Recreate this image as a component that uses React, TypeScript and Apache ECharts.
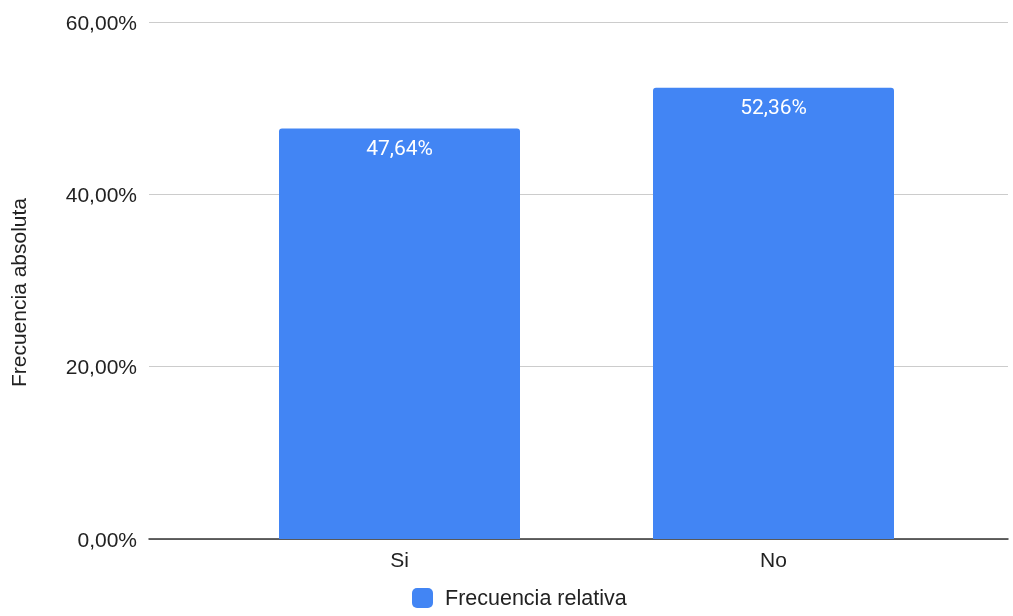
import React, { useEffect, useRef } from "react";
import * as echarts from "echarts";

const categories = ["Si", "No"];
const values = [47.64, 52.36];
const seriesName = "Frecuencia relativa";
const yAxisTitle = "Frecuencia absoluta";
const yMin = 0;
const yMax = 60;
const yInterval = 20;

const fmt = (v: number) => v.toFixed(2).replace(".", ",") + "%";
const FONT = "Liberation Sans, Arial, sans-serif";

export default function App() {
  const ref = useRef<HTMLDivElement>(null);
  useEffect(() => {
    if (!ref.current) return;
    const chart = echarts.init(ref.current, null, { renderer: "svg" });
    chart.setOption({
      animation: false,
      textStyle: { fontFamily: FONT },
      grid: [
        { left: 148, right: 5, top: 22, bottom: 77 },
        { left: 212.5, right: 52.5, top: 22, bottom: 77 },
      ],
      legend: {
        data: [seriesName],
        bottom: 2,
        left: 407,
        itemWidth: 21,
        itemHeight: 20,
        itemGap: 10,
        icon: "roundRect",
        textStyle: { fontSize: 21.5, color: "#222", fontFamily: FONT, padding: [0, 0, 0, 7] },
      },
      xAxis: [
        {
          gridIndex: 0,
          type: "category",
          data: categories,
          axisLine: { show: true, lineStyle: { color: "#333", width: 1.5 } },
          axisTick: { show: false },
          axisLabel: { show: false },
        },
        {
          gridIndex: 1,
          type: "category",
          data: categories,
          axisLine: { show: false },
          axisTick: { show: false },
          axisLabel: { fontSize: 21, color: "#222", margin: 10 },
        },
      ],
      yAxis: [
        {
          gridIndex: 0,
          type: "value",
          min: yMin,
          max: yMax,
          interval: yInterval,
          name: yAxisTitle,
          nameLocation: "middle",
          nameGap: 120,
          nameTextStyle: { fontSize: 21, color: "#222", padding: [0, 24, 0, 0] },
          axisLabel: { fontSize: 21, color: "#222", margin: 12, formatter: fmt },
          splitLine: { lineStyle: { color: "#ccc" } },
          axisLine: { show: false },
          axisTick: { show: false },
        },
        {
          gridIndex: 1,
          type: "value",
          min: yMin,
          max: yMax,
          interval: yInterval,
          show: false,
          splitLine: { show: false },
        },
      ],
      series: [
        {
          name: seriesName,
          type: "bar",
          xAxisIndex: 1,
          yAxisIndex: 1,
          data: values,
          barWidth: 241,
          itemStyle: { color: "#4285F4", borderRadius: [3, 3, 0, 0] },
          label: {
            show: true,
            position: "insideTop",
            distance: 9,
            color: "#fff",
            fontSize: 21,
            fontFamily: "Roboto, sans-serif",
            formatter: (p: any) => fmt(p.value),
          },
        },
      ],
    });
    return () => chart.dispose();
  }, []);
  return (
    <div
      ref={ref}
      style={{ position: "fixed", left: 0, top: 0, width: 1013, height: 616 }}
    />
  );
}
